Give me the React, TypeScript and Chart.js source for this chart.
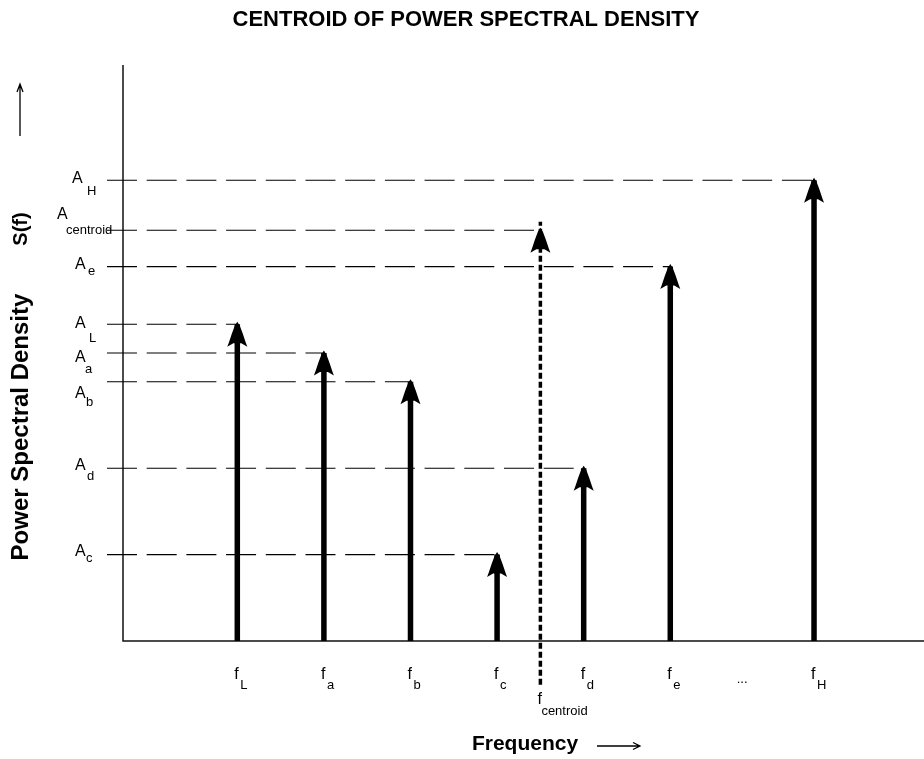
import React, { useEffect, useRef } from 'react';
import { Chart, registerables } from 'chart.js';

Chart.register(...registerables);

// ---------------- data ----------------
const freqSubscripts = ['L', 'a', 'b', 'c', 'd', 'e', 'H'];
const freqValues = [1, 2, 3, 4, 5, 6, 7.66];
const ampValues = [55, 50, 45, 15, 30, 65, 80];
const centroidSubscript = 'centroid';
const centroidFreq = 4.5;
const centroidAmp = 71.3;
const ellipsisFreq = 6.83;
const ellipsisText = '...';
const xRange = [-0.32, 8.93];
const yRange = [0, 100];
const dashStartFreq = -0.505;
const centroidLineRange = [-7.6, 72.8];

const titleText = 'CENTROID OF POWER SPECTRAL DENSITY';
const xTitleText = 'Frequency';
const yTitleText = 'Power Spectral Density';
const ySymbolText = 'S(f)';

// ---------------- styles (pixel offsets for amplitude labels, relative to the y axis) ----------------
const ampLabelStyle: Record<string, { ax: number; ay: number; sx: number; sy: number }> = {
  L: { ax: -48, ay: -0.5, sx: -34, sy: 14 },
  a: { ax: -48, ay: 5, sx: -38, sy: 16 },
  b: { ax: -48, ay: 12, sx: -37, sy: 21 },
  c: { ax: -48, ay: -3.5, sx: -37, sy: 4 },
  d: { ax: -48, ay: -2.5, sx: -36, sy: 8 },
  e: { ax: -48, ay: -2.5, sx: -35, sy: 5 },
  H: { ax: -51, ay: -1.5, sx: -36, sy: 11 },
  centroid: { ax: -66, ay: -16, sx: -57, sy: 0 },
};

const FONT = '"Liberation Sans", Arial, Helvetica, sans-serif';

function drawArrowHead(ctx: CanvasRenderingContext2D, x: number, y: number) {
  const t = y - 2.5;
  ctx.beginPath();
  ctx.moveTo(x, t);
  ctx.lineTo(x + 2.5, t + 4);
  ctx.lineTo(x + 5.5, t + 12);
  ctx.lineTo(x + 8.5, t + 21);
  ctx.lineTo(x + 10, t + 25);
  ctx.lineTo(x + 4, t + 21.5);
  ctx.lineTo(x - 4, t + 21.5);
  ctx.lineTo(x - 10, t + 25);
  ctx.lineTo(x - 8.5, t + 21);
  ctx.lineTo(x - 5.5, t + 12);
  ctx.lineTo(x - 2.5, t + 4);
  ctx.closePath();
  ctx.fill();
}

const decorPlugin = {
  id: 'psdDecor',
  beforeDatasetsDraw(chart: any) {
    const { ctx, chartArea } = chart;
    ctx.save();
    ctx.strokeStyle = '#111';
    ctx.lineWidth = 1.5;
    ctx.beginPath();
    ctx.moveTo(chartArea.left, chartArea.top);
    ctx.lineTo(chartArea.left, chartArea.bottom);
    ctx.lineTo(chartArea.right, chartArea.bottom);
    ctx.stroke();
    ctx.restore();
  },
  afterDatasetsDraw(chart: any) {
    const { ctx, chartArea } = chart;
    const xs = chart.scales.x;
    const ys = chart.scales.y;
    ctx.save();
    ctx.fillStyle = '#000';
    ctx.strokeStyle = '#000';

    // arrow heads
    freqValues.forEach((f, i) => drawArrowHead(ctx, xs.getPixelForValue(f), ys.getPixelForValue(ampValues[i])));
    drawArrowHead(ctx, xs.getPixelForValue(centroidFreq), ys.getPixelForValue(centroidAmp));

    // amplitude labels
    ctx.textBaseline = 'middle';
    ctx.textAlign = 'left';
    const ampLabel = (sub: string, v: number) => {
      const st = ampLabelStyle[sub];
      const py = ys.getPixelForValue(v);
      ctx.font = `16px ${FONT}`;
      ctx.fillText('A', chartArea.left + st.ax, py + st.ay);
      ctx.font = `13px ${FONT}`;
      ctx.fillText(sub, chartArea.left + st.sx, py + st.sy);
    };
    freqSubscripts.forEach((s, i) => ampLabel(s, ampValues[i]));
    ampLabel(centroidSubscript, centroidAmp);

    // frequency labels
    const b = chartArea.bottom;
    freqSubscripts.forEach((s, i) => {
      const px = xs.getPixelForValue(freqValues[i]);
      ctx.font = `16px ${FONT}`;
      ctx.fillText('f', px - 3, b + 34);
      ctx.font = `13px ${FONT}`;
      ctx.fillText(s, px + 3, b + 44);
    });
    {
      const px = xs.getPixelForValue(centroidFreq);
      ctx.font = `16px ${FONT}`;
      ctx.fillText('f', px - 3, b + 58.5);
      ctx.font = `13px ${FONT}`;
      ctx.fillText(centroidSubscript, px + 1, b + 70);
    }
    ctx.font = `13px ${FONT}`;
    ctx.textAlign = 'center';
    ctx.fillText(ellipsisText, xs.getPixelForValue(ellipsisFreq), b + 38);

    // title
    ctx.font = `bold 22px ${FONT}`;
    ctx.fillText(titleText, 466, 20);

    // x title + arrow
    ctx.font = `bold 21px ${FONT}`;
    ctx.fillText(xTitleText, 525, 744);
    ctx.lineWidth = 1.3;
    ctx.beginPath();
    ctx.moveTo(597, 746);
    ctx.lineTo(640, 746);
    ctx.moveTo(633, 742.5);
    ctx.lineTo(640, 746);
    ctx.lineTo(633, 749.5);
    ctx.stroke();

    // y title
    ctx.save();
    ctx.translate(21, 427);
    ctx.rotate(-Math.PI / 2);
    ctx.font = `bold 24px ${FONT}`;
    ctx.fillText(yTitleText, 0, 0);
    ctx.restore();
    ctx.save();
    ctx.translate(21, 229);
    ctx.rotate(-Math.PI / 2);
    ctx.font = `bold 20px ${FONT}`;
    ctx.fillText(ySymbolText, 0, 0);
    ctx.restore();
    // y arrow
    ctx.lineWidth = 1.3;
    ctx.beginPath();
    ctx.moveTo(20, 136);
    ctx.lineTo(20, 84);
    ctx.moveTo(17, 92);
    ctx.lineTo(20, 84);
    ctx.lineTo(23, 92);
    ctx.stroke();

    ctx.restore();
  },
};

export default function App() {
  const canvasRef = useRef<HTMLCanvasElement | null>(null);

  useEffect(() => {
    const canvas = canvasRef.current;
    if (!canvas) return;

    const stemData: any[] = [];
    freqValues.forEach((f, i) => {
      stemData.push({ x: f, y: 0 }, { x: f, y: ampValues[i] }, { x: f, y: null });
    });

    const levelFreqs = [...freqValues, centroidFreq];
    const levelAmps = [...ampValues, centroidAmp];
    const dashedSets = levelFreqs.map((f, i) => ({
      label: 'level' + i,
      data: [
        { x: dashStartFreq, y: levelAmps[i] },
        { x: f, y: levelAmps[i] },
      ],
      borderColor: '#000',
      borderWidth: 1.1,
      borderDash: [30, 9.7],
      pointRadius: 0,
      clip: false as any,
      order: 3,
    }));

    const chart = new Chart(canvas, {
      type: 'line',
      data: {
        datasets: [
          {
            label: 'stems',
            data: stemData,
            borderColor: '#000',
            borderWidth: 5.5,
            pointRadius: 0,
            spanGaps: false,
            clip: false as any,
            order: 1,
          },
          {
            label: 'centroid',
            data: [
              { x: centroidFreq, y: centroidLineRange[0] },
              { x: centroidFreq, y: centroidLineRange[1] },
            ],
            borderColor: '#000',
            borderWidth: 3.5,
            borderDash: [6, 3],
            pointRadius: 0,
            clip: false as any,
            order: 2,
          },
          ...dashedSets,
        ],
      },
      options: {
        animation: false,
        responsive: false,
        maintainAspectRatio: false,
        layout: { padding: { left: 123, top: 65, right: 0, bottom: 118 } },
        scales: {
          x: { type: 'linear', min: xRange[0], max: xRange[1], display: false },
          y: { type: 'linear', min: yRange[0], max: yRange[1], display: false },
        },
        plugins: {
          legend: { display: false },
          tooltip: { enabled: false },
          title: { display: false },
        },
      },
      plugins: [decorPlugin],
    });

    return () => chart.destroy();
  }, []);

  return (
    <div style={{ position: 'absolute', left: 0, top: 0, width: 924, height: 759, background: '#fff' }}>
      <canvas ref={canvasRef} width={924} height={759} />
    </div>
  );
}
